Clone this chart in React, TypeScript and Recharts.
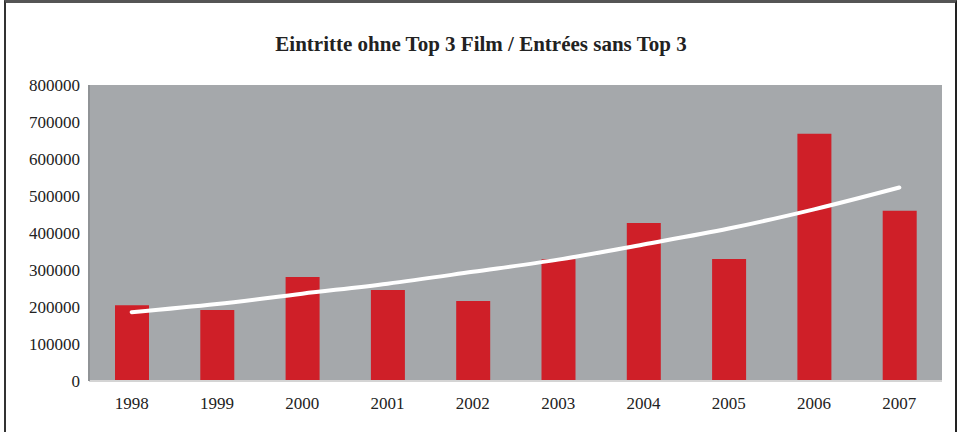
import { ComposedChart, Bar, Line, XAxis, YAxis, CartesianGrid } from 'recharts';

const years = ['1998', '1999', '2000', '2001', '2002', '2003', '2004', '2005', '2006', '2007'];
const admissions = [205000, 192000, 281000, 246000, 216000, 329000, 427000, 330000, 668000, 460000];
const trend = [186000, 208000, 236000, 263000, 295000, 328000, 369000, 412000, 464000, 523000];
const yTicks = [0, 100000, 200000, 300000, 400000, 500000, 600000, 700000, 800000];

const data = years.map((y, i) => ({ year: y, value: admissions[i], trend: trend[i] }));

const font = '"Liberation Serif", serif';

/* bar chart of admissions with the white trend curve on top */
const App = () => {
  return (
    <div style={{ position: 'absolute', left: 0, top: 0, width: 962, height: 432, background: '#fff', overflow: 'hidden' }}>
      <div
        style={{
          position: 'absolute', left: 4, top: 0, width: 949, height: 440,
          borderLeft: '2px solid #333', borderRight: '2px solid #222', borderTop: '3px solid #555',
        }}
      />
      <div
        style={{
          position: 'absolute', left: 0, top: 32, width: 962, textAlign: 'center',
          fontFamily: font, fontWeight: 'bold', fontSize: 21, color: '#222',
        }}
      >
        Eintritte ohne Top 3 Film / Entrées sans Top 3
      </div>
      <div style={{ position: 'absolute', left: 0, top: 0 }}>
        <ComposedChart width={962} height={432} data={data} margin={{ top: 85, right: 20, bottom: 10, left: 0 }} barSize={34}>
          <CartesianGrid fill="#a5a8ab" horizontal={false} vertical={false} />
          <XAxis
            dataKey="year"
            height={41}
            tickLine={false}
            tickSize={14}
            tickMargin={2}
            axisLine={{ stroke: '#d4d4d4', strokeWidth: 2 }}
            tick={{ fill: '#222', fontFamily: font, fontSize: 17 }}
          />
          <YAxis
            width={89}
            domain={[0, 800000]}
            ticks={yTicks}
            interval={0}
            tickLine={false}
            tickSize={8}
            tickMargin={1}
            axisLine={{ stroke: '#909396', strokeWidth: 2 }}
            tick={{ fill: '#222', fontFamily: font, fontSize: 17 }}
          />
          <Bar dataKey="value" fill="#cf1f28" isAnimationActive={false} />
          <Line
            dataKey="trend"
            type="monotone"
            stroke="#fff"
            strokeWidth={4}
            strokeLinecap="round"
            dot={false}
            activeDot={false}
            isAnimationActive={false}
          />
        </ComposedChart>
      </div>
    </div>
  );
};

export default App;
